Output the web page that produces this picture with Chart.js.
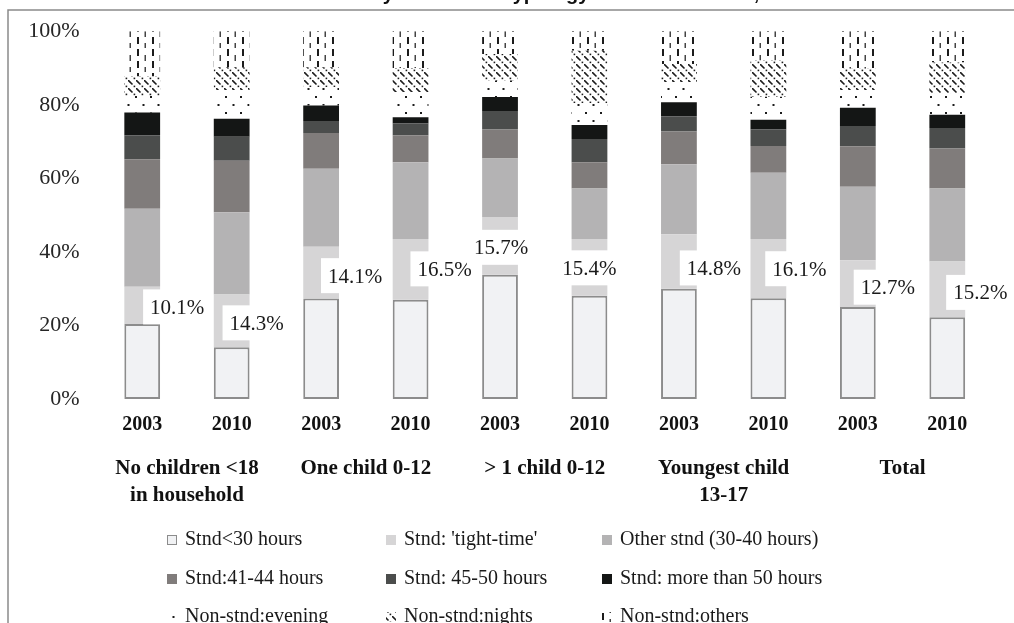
<!DOCTYPE html>
<html>
<head>
<meta charset="utf-8">
<script src="https://cdn.jsdelivr.net/npm/chart.js@4.4.0/dist/chart.umd.min.js"></script>
<style>
  body { margin: 0; background: #fff; }
  #wrap { width: 1014px; height: 623px; }
</style>
</head>
<body>
<div id="wrap"><canvas id="horarios" width="1014" height="623"></canvas></div>
<script>
// categorias y series
const years = ['2003', '2010', '2003', '2010', '2003', '2010', '2003', '2010', '2003', '2010'];
const groups = [['No children <18', 'in household'], 'One child 0-12', '> 1 child 0-12', ['Youngest child', '13-17'], 'Total'];
const seriesNames = ['Stnd<30 hours', "Stnd: 'tight-time'", 'Other stnd (30-40 hours)',
                     'Stnd:41-44 hours', 'Stnd: 45-50 hours', 'Stnd: more than 50 hours',
                     'Non-stnd:evening', 'Non-stnd:nights', 'Non-stnd:others'];
const yTicks = [0, 20, 40, 60, 80, 100];

const stnd30   = [20.4, 14.1, 27.3, 27.0, 33.8, 28.1, 30.0, 27.4, 25.0, 22.2];
const tight    = [10.1, 14.3, 14.1, 16.5, 15.7, 15.4, 14.8, 16.1, 12.7, 15.2];
const otherStd = [21.2, 22.4, 21.2, 20.9, 15.9, 13.7, 19.0, 18.0, 20.0, 19.8];
const h41_44   = [13.5, 14.0,  9.7,  7.3,  7.9,  7.2,  8.9,  7.3, 11.0, 10.9];
const h45_50   = [ 6.5,  6.5,  3.3,  3.2,  5.0,  6.3,  4.2,  4.5,  5.5,  5.6];
const h50plus  = [ 6.2,  4.9,  4.2,  1.7,  3.8,  3.8,  3.8,  2.6,  5.0,  3.6];
const evening  = [ 4.5,  7.8,  5.0,  6.9,  4.5,  5.9,  5.5,  6.3,  4.8,  5.8];
const nights   = [ 5.3,  6.2,  5.4,  6.4,  7.2, 14.3,  4.9,  9.8,  5.8,  8.4];
const others   = [12.3,  9.8,  9.8, 10.1,  6.2,  5.3,  8.9,  8.0, 10.2,  8.5];

// desplazamiento de las etiquetas de 'tight-time'
const labelDx = [35, 25, 34, 34, 1, 0, 35, 31, 30, 33];
const labelDy = [3, 3.5, 4.5, 1, 3, 2, 8, 1.6, 5, 4.5];

const ctx = document.getElementById('horarios');
const serif = '"Times New Roman", "Liberation Serif", serif';

function patron(w, h, dibujo) {
  const c = document.createElement('canvas');
  c.width = w; c.height = h;
  const g = c.getContext('2d');
  g.fillStyle = '#fff';
  g.fillRect(0, 0, w, h);
  g.fillStyle = '#1c1c1c';
  g.strokeStyle = '#1c1c1c';
  dibujo(g);
  return ctx.getContext('2d').createPattern(c, 'repeat');
}

const patEvening = patron(15, 16, g => {
  g.fillRect(0, 0, 2, 2);
  g.fillRect(7.5, 8, 2, 2);
});
const patNights = patron(8, 8, g => {
  g.lineWidth = 1.6;
  g.beginPath(); g.moveTo(0, 0); g.lineTo(4.5, 4.5); g.stroke();
  g.fillRect(5.6, 5.6, 1.6, 1.6);
});
const patOthers = patron(15, 24, g => {
  g.fillRect(2, 1, 2, 7);
  g.fillRect(2, 13, 2, 7);
  g.fillStyle = '#444';
  g.fillRect(9.5, 7, 1.5, 6);
  g.fillRect(9.5, 19, 1.5, 5);
});

const colores = ['#f1f2f4', '#d6d5d6', '#b4b3b4', '#807c7b', '#4b4d4c', '#141615',
                 patEvening, patNights, patOthers];
const valores = [stnd30, tight, otherStd, h41_44, h45_50, h50plus, evening, nights, others];

const datasets = valores.map((v, i) => ({
  label: seriesNames[i],
  data: v,
  backgroundColor: colores[i],
  borderColor: i === 0 ? '#8c8c8c' : colores[i],
  borderWidth: i === 0 ? 2 : 0,
  borderSkipped: false,
  barPercentage: 0.4,
  categoryPercentage: 1.0
}));

// marco y titulo
const marco = {
  id: 'marco',
  afterDraw(chart) {
    const c = chart.ctx;
    c.save();
    c.strokeStyle = '#8a8a8a';
    c.lineWidth = 1.5;
    c.beginPath();
    c.moveTo(8, chart.height);
    c.lineTo(8, 10);
    c.lineTo(chart.width, 10);
    c.stroke();

    const titulo = 'Work schedules by household typology in 2003 and 2010, women';
    c.font = 'bold 20px "Liberation Sans", Arial, sans-serif';
    c.fillStyle = '#111';
    c.textBaseline = 'alphabetic';
    c.textAlign = 'left';
    const x0 = 506 - c.measureText('Work schedules by household ').width;
    c.fillText(titulo, x0, 0);
    c.restore();
  }
};

// etiquetas con fondo blanco
const etiquetas = {
  id: 'etiquetas',
  afterDatasetsDraw(chart) {
    const c = chart.ctx;
    const meta = chart.getDatasetMeta(1);
    c.save();
    c.font = '21px ' + serif;
    c.textAlign = 'center';
    c.textBaseline = 'middle';
    meta.data.forEach((bar, i) => {
      const txt = tight[i].toFixed(1) + '%';
      const cx = bar.x + labelDx[i];
      const cy = (bar.y + bar.base) / 2 + labelDy[i];
      const w = c.measureText(txt).width;
      c.fillStyle = '#fff';
      c.fillRect(cx - w / 2 - 7, cy - 19, w + 14, 35);
      c.fillStyle = '#1a1a1a';
      c.fillText(txt, cx, cy);
    });
    c.restore();
  }
};

// leyenda en rejilla de 3 columnas
const leyenda = {
  id: 'leyenda',
  afterDraw(chart) {
    const c = chart.ctx;
    const colX = [167, 386, 602];
    const rowY = [540, 579, 617];
    c.save();
    c.font = '20px ' + serif;
    c.textBaseline = 'middle';
    c.textAlign = 'left';
    chart.data.datasets.forEach((ds, i) => {
      const x = colX[i % 3];
      const y = rowY[Math.floor(i / 3)];
      c.fillStyle = ds.backgroundColor;
      c.fillRect(x, y - 5, 10, 10);
      if (i === 0) {
        c.strokeStyle = '#8c8c8c';
        c.lineWidth = 1;
        c.strokeRect(x + 0.5, y - 4.5, 9, 9);
      }
      c.fillStyle = '#1a1a1a';
      c.fillText(ds.label, x + 18, y);
    });
    c.restore();
  }
};

const grafico = new Chart(ctx, {
  type: 'bar',
  data: { labels: years, datasets: datasets },
  options: {
    responsive: false,
    animation: false,
    events: [],
    layout: { padding: { top: 25, right: 22, left: 0, bottom: 104 } },
    plugins: {
      legend: { display: false },
      tooltip: { enabled: false },
      title: { display: false }
    },
    scales: {
      x: {
        stacked: true,
        weight: 0,
        grid: { display: false, drawTicks: false },
        border: { display: false },
        ticks: {
          padding: 14,
          color: '#111',
          font: { family: serif, size: 20, weight: 'bold' }
        },
        afterFit(axis) { axis.height = 40; }
      },
      x2: {
        type: 'category',
        position: 'bottom',
        weight: 1,
        labels: groups,
        offset: true,
        grid: { display: false, drawTicks: false },
        border: { display: false },
        ticks: {
          padding: 16,
          color: '#111',
          font: { family: serif, size: 21, weight: 'bold', lineHeight: 1.3 }
        },
        afterFit(axis) { axis.height = 80; }
      },
      y: {
        stacked: true,
        min: 0,
        max: 100,
        grid: { display: false, drawTicks: false },
        border: { display: false },
        afterBuildTicks(axis) { axis.ticks = yTicks.map(v => ({ value: v })); },
        ticks: {
          padding: 18,
          color: '#262626',
          font: { family: serif, size: 22 },
          callback: v => v + '%'
        },
        afterFit(axis) { axis.width = 97.5; }
      }
    }
  },
  plugins: [marco, etiquetas, leyenda]
});
</script>
</body>
</html>
